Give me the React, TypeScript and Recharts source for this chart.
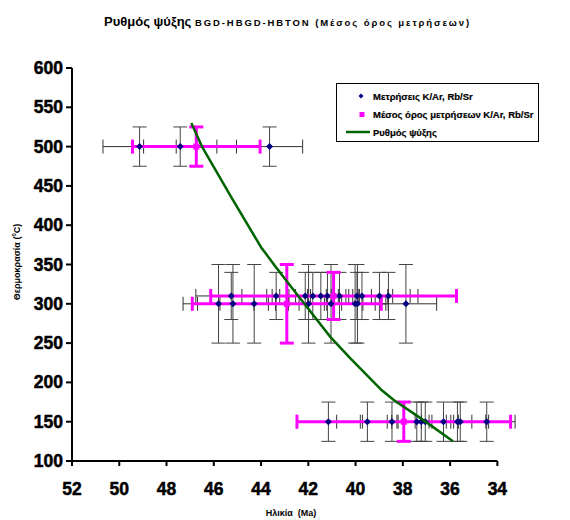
import React from "react";
import {
  ScatterChart,
  Scatter,
  XAxis,
  YAxis,
  ErrorBar,
  ReferenceLine,
} from "recharts";

// individual K/Ar, Rb/Sr measurements
const measAge = [
  49.14, 47.42, 43.64,
  45.26, 43.36, 42.13, 41.81, 41.47, 41.19, 40.68, 39.94, 39.73, 38.99, 38.61,
  45.8, 45.19, 44.29, 41.99, 41.04, 40.02, 39.92, 37.87,
  41.15, 39.5, 38.46, 37.41, 37.22, 37.05, 36.28, 35.69, 35.57, 34.45,
];
const measTemp = [
  500, 500, 500,
  310, 310, 310, 310, 310, 310, 310, 310, 310, 310, 310,
  300, 300, 300, 300, 300, 300, 300, 300,
  150, 150, 150, 150, 150, 150, 150, 150, 150, 150,
];
const measAgeErr = [
  1.55, 1.55, 1.4,
  1.5, 1.45, 1.4, 1.4, 1.35, 1.35, 1.35, 1.3, 1.3, 1.3, 1.25,
  1.5, 1.5, 1.45, 1.4, 1.35, 1.3, 1.3, 1.3,
  1.35, 1.3, 1.25, 1.25, 1.25, 1.2, 1.2, 1.2, 1.2, 1.2,
];
const measTempErr = [
  25, 25, 25,
  30, 30, 30, 30, 30, 30, 30, 30, 30, 30, 30,
  50, 50, 50, 50, 50, 50, 50, 50,
  25, 25, 25, 25, 25, 25, 25, 25, 25, 25,
];

// mean of measurements
const meanAge = [46.74, 40.93, 42.91, 37.96];
const meanTemp = [500, 310, 300, 150];
const meanAgeErr = [2.7, 5.2, 4.0, 4.52];
const meanTempErr = [25, 30, 50, 25];

// cooling curve
const coolAge = [46.95, 46.5, 45.23, 44.0, 43.33, 42.63, 42.06, 41.07, 40.23, 38.89, 38.4, 37.13, 35.88];
const coolTemp = [530, 500, 434, 372, 345, 318, 296, 258, 231, 190, 178, 152, 125];

const xTicks = [52, 50, 48, 46, 44, 42, 40, 38, 36, 34];
const yTicks = [100, 150, 200, 250, 300, 350, 400, 450, 500, 550, 600];

const measData = measAge.map((a, i) => ({
  age: a,
  temp: measTemp[i],
  ageErr: measAgeErr[i],
  tempErr: measTempErr[i],
}));
const meanData = meanAge.map((a, i) => ({
  age: a,
  temp: meanTemp[i],
  ageErr: meanAgeErr[i],
  tempErr: meanTempErr[i],
}));
const coolData = coolAge.map((a, i) => ({ age: a, temp: coolTemp[i] }));

const FONT = 'Arial, "Liberation Sans", sans-serif';

const Diamond = (props: any) => {
  const { cx, cy } = props;
  const r = 3.5;
  return (
    <polygon
      points={`${cx},${cy - r} ${cx + r},${cy} ${cx},${cy + r} ${cx - r},${cy}`}
      fill="#000080"
    />
  );
};

const PinkSquare = (props: any) => {
  const { cx, cy } = props;
  return <rect x={cx - 3} y={cy - 3} width={6} height={6} fill="#FF00FF" />;
};

const NoDot = () => <g />;

// heavy bold tick labels, like the Excel original
const tickText = {
  fontSize: 17.5,
  fontWeight: "bold" as const,
  fontFamily: FONT,
  fill: "#000",
  stroke: "#000",
  strokeWidth: 0.5,
};

const XTick = (props: any) => {
  const { x, y, payload } = props;
  return (
    <text x={x} y={y} dy={13} textAnchor="middle" style={tickText}>
      {payload.value}
    </text>
  );
};

const YTick = (props: any) => {
  const { x, y, payload } = props;
  return (
    <text x={x} y={y} dy={6} textAnchor="end" style={tickText}>
      {payload.value}
    </text>
  );
};

export default function App() {
  return (
    <div
      style={{
        position: "absolute",
        left: 0,
        top: 0,
        width: 570,
        height: 520,
        background: "#fff",
        fontFamily: FONT,
      }}
    >
      <div
        style={{
          position: "absolute",
          left: 0,
          width: 575,
          top: 12,
          textAlign: "center",
          fontWeight: 700,
          whiteSpace: "nowrap",
        }}
      >
        <span style={{ fontSize: 13 }}>Ρυθμός ψύξης </span>
        <span style={{ fontSize: 9.5, letterSpacing: 1.9 }}>
          BGD-HBGD-HBTON (Μέσος όρος μετρήσεων)
        </span>
      </div>

      <ScatterChart
        width={570}
        height={520}
        margin={{ top: 68, right: 49, bottom: 0, left: 0 }}
      >
        <XAxis
          type="number"
          dataKey="age"
          domain={[33, 52]}
          reversed
          ticks={xTicks}
          interval={0}
          axisLine={false}
          tickLine={{ stroke: "#000", strokeWidth: 2 }}
          tickSize={5}
          tickMargin={16}
          height={59}
          tick={<XTick />}
        />
        <YAxis
          type="number"
          dataKey="temp"
          domain={[100, 600]}
          ticks={yTicks}
          interval={0}
          axisLine={{ stroke: "#000", strokeWidth: 2 }}
          tickLine={{ stroke: "#000", strokeWidth: 2 }}
          tickSize={6}
          tickMargin={3}
          width={72}
          tick={<YTick />}
        />
        <ReferenceLine
          segment={[
            { x: 52, y: 100 },
            { x: 34, y: 100 },
          ]}
          stroke="#000"
          strokeWidth={2}
        />
        <Scatter
          name="Μετρήσεις K/Ar, Rb/Sr"
          data={measData}
          shape={Diamond}
          isAnimationActive={false}
        >
          <ErrorBar dataKey="tempErr" direction="y" width={7} stroke="#444" strokeWidth={1} />
          <ErrorBar dataKey="ageErr" direction="x" width={7} stroke="#333" strokeWidth={1} />
        </Scatter>
        <Scatter
          name="Μέσος όρος μετρήσεων K/Ar, Rb/Sr"
          data={meanData}
          shape={PinkSquare}
          isAnimationActive={false}
        >
          <ErrorBar dataKey="ageErr" direction="x" width={7} stroke="#FF00FF" strokeWidth={3} />
          <ErrorBar dataKey="tempErr" direction="y" width={7} stroke="#FF00FF" strokeWidth={3} />
        </Scatter>
        <Scatter
          name="Ρυθμός ψύξης"
          data={coolData}
          line={{ stroke: "#006400", strokeWidth: 2.5 }}
          lineType="joint"
          shape={NoDot}
          isAnimationActive={false}
        />
      </ScatterChart>

      {/* legend */}
      <div
        style={{
          position: "absolute",
          left: 336,
          top: 83,
          width: 201,
          height: 57,
          border: "1px solid #000",
          background: "#fff",
          fontSize: 9.5,
          fontWeight: 700,
          WebkitTextStroke: "0.2px #000",
        }}
      >
        {[
          { label: "Μετρήσεις K/Ar, Rb/Sr", kind: "diamond" },
          { label: "Μέσος όρος μετρήσεων K/Ar, Rb/Sr", kind: "square" },
          { label: "Ρυθμός ψύξης", kind: "line" },
        ].map((item, i) => (
          <div
            key={item.label}
            style={{
              position: "absolute",
              left: 8,
              top: 5 + i * 18,
              height: 14,
              display: "flex",
              alignItems: "center",
              whiteSpace: "nowrap",
            }}
          >
            <svg width={27} height={14} style={{ marginRight: 1 }}>
              {item.kind === "diamond" && (
                <polygon points="16,4.5 18.5,7 16,9.5 13.5,7" fill="#000080" />
              )}
              {item.kind === "square" && (
                <rect x={14.5} y={5} width={5} height={5} fill="#FF00FF" />
              )}
              {item.kind === "line" && (
                <line x1={1} x2={25} y1={7} y2={7} stroke="#006400" strokeWidth={2.5} />
              )}
            </svg>
            <span>{item.label}</span>
          </div>
        ))}
      </div>

      {/* axis titles */}
      <div
        style={{
          position: "absolute",
          left: 16,
          top: 262,
          transform: "translate(-50%, -50%) rotate(-90deg)",
          fontSize: 9,
          fontWeight: 700,
          whiteSpace: "nowrap",
        }}
      >
        Θερμοκρασία (<sup style={{ fontSize: 6 }}>0</sup>C)
      </div>
      <div
        style={{
          position: "absolute",
          left: 291,
          top: 513,
          transform: "translate(-50%, -50%)",
          fontSize: 9,
          fontWeight: 700,
          whiteSpace: "pre",
        }}
      >
        {"Ηλικία  (Ma)"}
      </div>
    </div>
  );
}
